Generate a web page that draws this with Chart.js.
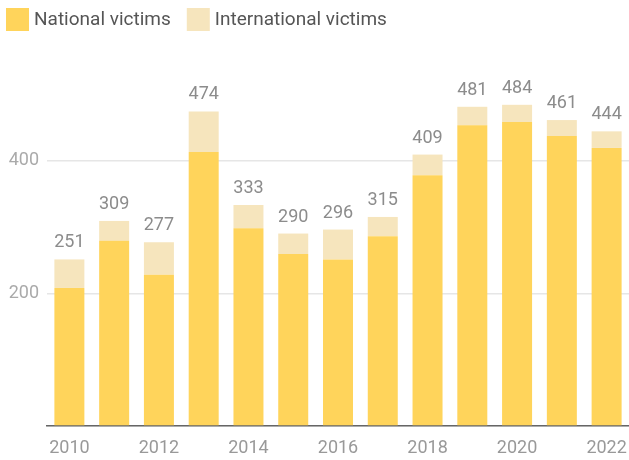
<!DOCTYPE html>
<html>
<head>
<meta charset="utf-8">
<script src="https://cdn.jsdelivr.net/npm/chart.js@4/dist/chart.umd.min.js"></script>
<style>
  html, body { margin: 0; padding: 0; background: #fff; }
  #wrap { width: 629px; height: 460px; }
</style>
</head>
<body>
<div id="wrap"><canvas id="victimsChart"></canvas></div>
<script>
const years = ['2010', '2011', '2012', '2013', '2014', '2015', '2016', '2017', '2018', '2019', '2020', '2021', '2022'];
const nationalVictims = [208, 279, 228, 413, 298, 259, 251, 286, 378, 453, 458, 437, 419];
const internationalVictims = [43, 30, 49, 61, 35, 31, 45, 29, 31, 28, 26, 24, 25];
const yTicks = [200, 400];

const totals = years.map((y, i) => nationalVictims[i] + internationalVictims[i]);

// totals above each stacked bar
const totalLabels = {
    id: 'totalLabels',
    afterDatasetsDraw(chart) {
        const ctx = chart.ctx;
        const meta = chart.getDatasetMeta(1);
        const yScale = chart.scales.y;
        ctx.save();
        ctx.font = '18px Roboto';
        ctx.fillStyle = '#8c8c8c';
        ctx.textAlign = 'center';
        ctx.textBaseline = 'alphabetic';
        meta.data.forEach((bar, i) => {
            ctx.fillText(totals[i], bar.x, yScale.getPixelForValue(totals[i]) - 12);
        });
        ctx.restore();
    }
};

// compact legend row in the top-left corner
const topLegend = {
    id: 'topLegend',
    afterDraw(chart) {
        const ctx = chart.ctx;
        ctx.save();
        ctx.font = '19px Roboto';
        ctx.textBaseline = 'middle';
        ctx.textAlign = 'left';
        let x = 6;
        chart.data.datasets.forEach((ds) => {
            ctx.fillStyle = ds.backgroundColor;
            ctx.fillRect(x, 8, 23, 23);
            ctx.fillStyle = '#555';
            ctx.fillText(ds.label, x + 28, 20);
            x += 28 + ctx.measureText(ds.label).width + 16;
        });
        ctx.restore();
    }
};

const ctx = document.getElementById('victimsChart').getContext('2d');
const chart = new Chart(ctx, {
    type: 'bar',
    data: {
        labels: years,
        datasets: [
            {
                label: 'National victims',
                data: nationalVictims,
                backgroundColor: '#FFD45B',
                barPercentage: 0.67,
                categoryPercentage: 1
            },
            {
                label: 'International victims',
                data: internationalVictims,
                backgroundColor: '#F6E5BD',
                barPercentage: 0.67,
                categoryPercentage: 1
            }
        ]
    },
    options: {
        responsive: true,
        maintainAspectRatio: false,
        animation: false,
        layout: { padding: { top: 61, right: 0, bottom: 0, left: 0 } },
        plugins: {
            legend: { display: false },
            tooltip: { enabled: false }
        },
        scales: {
            x: {
                stacked: true,
                afterFit: (scale) => {
                    scale.height = 34;
                    scale.paddingLeft = 0;
                    scale.paddingRight = 0;
                },
                grid: { display: false, drawTicks: false },
                border: { color: '#666', width: 1.5 },
                ticks: {
                    autoSkip: false,
                    maxRotation: 0,
                    padding: 12,
                    color: '#999',
                    font: { family: 'Roboto', size: 18 },
                    callback: (v, i) => (i % 2 === 0 ? years[i] : '')
                }
            },
            y: {
                stacked: true,
                min: 0,
                max: 550,
                afterBuildTicks: (scale) => {
                    scale.ticks = [0].concat(yTicks).map(v => ({ value: v }));
                },
                afterFit: (scale) => { scale.width = 47; },
                grid: { color: '#e6e6e6', lineWidth: 1.5, drawTicks: false },
                border: { display: false },
                ticks: {
                    padding: 8,
                    color: '#aaa',
                    font: { family: 'Roboto', size: 18 },
                    callback: (v) => (v === 0 ? '' : v)
                }
            }
        }
    },
    plugins: [totalLabels, topLegend]
});
</script>
</body>
</html>
